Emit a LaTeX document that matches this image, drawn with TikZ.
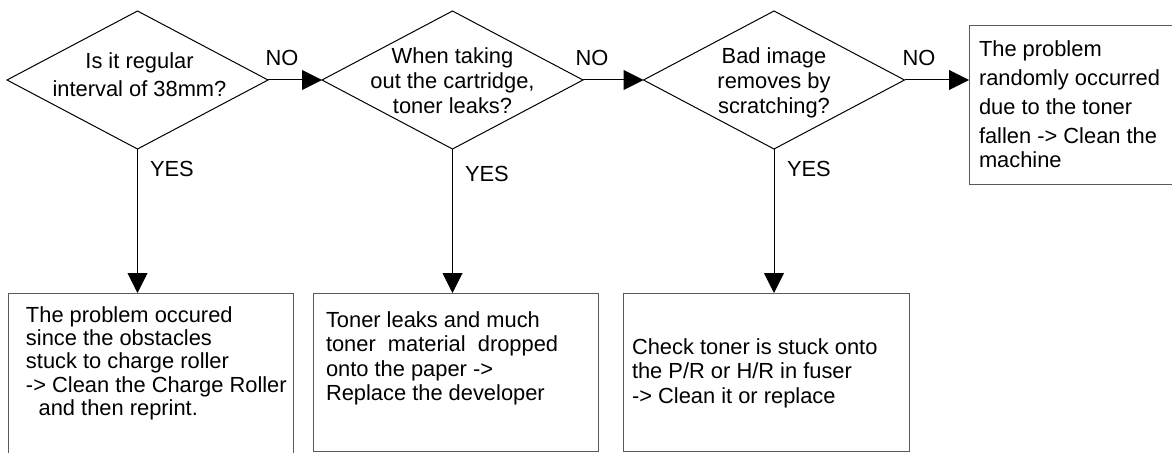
\documentclass[tikz,border=0pt]{standalone}
\usepackage{fontspec}
\setmainfont{Liberation Sans}
\usetikzlibrary{shapes.geometric,arrows.meta}
\definecolor{boxgray}{RGB}{90,90,90}
\newcommand{\mylines}[2]{\fontsize{16.4}{#1}\selectfont\begin{tabular}[t]{@{}l@{}}#2\end{tabular}}
\newcommand{\myclines}[2]{\fontsize{16.4}{#1}\selectfont\begin{tabular}[t]{@{}c@{}}#2\end{tabular}}
\begin{document}
\begin{tikzpicture}[x=0.75pt,y=-0.75pt,
  decision/.style={diamond, draw=black, line width=0.75pt, minimum width=195.75pt, minimum height=103.5pt, inner sep=0pt, outer sep=0pt},
  result/.style={rectangle, draw=boxgray, line width=0.75pt, inner sep=0pt, outer sep=0pt, anchor=north west},
  conn/.style={draw=black, line width=0.75pt, -{Triangle[length=15pt,width=15pt]}},
  txt/.style={inner sep=0pt, outer sep=0pt},
  lbl/.style={inner sep=0pt, outer sep=0pt, font=\fontsize{16.4}{18}\selectfont}
]
\useasboundingbox (0,0) rectangle (1172,453);
\clip (0,0) rectangle (1172,453);

% decisions
\node[decision] (d1) at (137.5,80) {};
\node[decision] (d2) at (452.5,80) {};
\node[decision] (d3) at (774,80) {};

\node[txt, anchor=base] (t1) at (139.5,69) {\myclines{21pt}{Is it regular\\interval of 38mm?}};
\node[txt, anchor=base] (t2) at (452.5,64) {\myclines{18.75pt}{When taking\\out the cartridge,\\toner leaks?}};
\node[txt, anchor=base] (t3) at (774,64) {\myclines{18.75pt}{Bad image\\removes by\\scratching?}};

% results
\node[result, minimum width=213.75pt, minimum height=125.25pt] (b1) at (8,293) {};
\node[result, minimum width=213.75pt, minimum height=118.5pt] (b2) at (313,293) {};
\node[result, minimum width=214.5pt, minimum height=118.5pt] (b3) at (623,293) {};
\node[result, minimum width=158.25pt, minimum height=118.5pt] (b4) at (969,26) {};

\node[txt, anchor=base west] (bt1) at (26,322) {\mylines{17.5pt}{The problem occured\\since the obstacles\\stuck to charge roller\\-> Clean the Charge Roller\\\hspace*{9.5pt}and then reprint.}};
\node[txt, anchor=base west] (bt2) at (326,327) {\mylines{18.4pt}{Toner leaks and much\\toner~ material~ dropped\\onto the paper ->\\Replace the developer}};
\node[txt, anchor=base west] (bt3) at (632,354) {\mylines{18.4pt}{Check toner is stuck onto\\the P/R or H/R in fuser\\-> Clean it or replace}};
\node[txt, anchor=base west] (bt4) at (979,57) {\mylines{21.75pt}{The problem\\randomly occurred\\due to the toner\\fallen -> Clean the\\[-4pt]machine}};

% connectors
\draw[conn] (d1.east) -- (d2.west);
\draw[conn] (d2.east) -- (d3.west);
\draw[conn] (d3.east) -- (b4.west |- d3.east);
\draw[conn] (d1.south) -- (d1.south |- b1.north);
\draw[conn] (d2.south) -- (d2.south |- b2.north);
\draw[conn] (d3.south) -- (d3.south |- b3.north);

% labels
\node[lbl, anchor=base] (no1) at (282,66) {NO};
\node[lbl, anchor=base] (no2) at (592,66) {NO};
\node[lbl, anchor=base] (no3) at (919,66) {NO};
\node[lbl, anchor=base west] (yes1) at (150,176) {YES};
\node[lbl, anchor=base west] (yes2) at (465,181) {YES};
\node[lbl, anchor=base west] (yes3) at (787,176) {YES};
\end{tikzpicture}
\end{document}
